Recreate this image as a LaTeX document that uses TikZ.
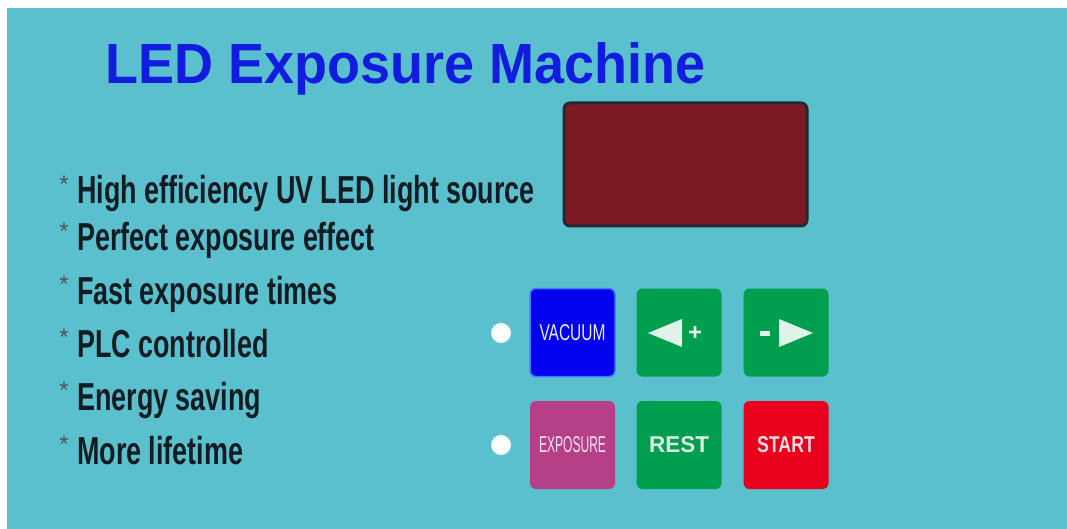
\documentclass[tikz,border=0pt]{standalone}
\usepackage{fontspec}
\setmainfont{Liberation Sans}
\usepackage{graphicx}
\definecolor{bgcyan}{RGB}{91,192,206}
\definecolor{titleblue}{RGB}{18,28,222}
\definecolor{txtdark}{RGB}{18,28,34}
\definecolor{disp}{RGB}{124,27,36}
\definecolor{dispedge}{RGB}{38,40,52}
\definecolor{vacblue}{RGB}{2,2,238}
\definecolor{vacedge}{RGB}{70,120,255}
\definecolor{btngreen}{RGB}{0,158,78}
\definecolor{btnmag}{RGB}{182,64,136}
\definecolor{btnred}{RGB}{232,0,28}
\definecolor{paletxt}{RGB}{235,240,250}
\begin{document}
\begin{tikzpicture}[x=1pt,y=-1pt,
  feat/.style={anchor=base west,inner sep=0pt,text=txtdark,font=\fontsize{39}{39}\selectfont\bfseries},
  star/.style={anchor=center,inner sep=0pt,text=txtdark!75,font=\fontsize{24}{24}\selectfont},
  btn/.style={rounded corners=6pt,minimum width=85pt,minimum height=88pt,inner sep=0pt,text=paletxt},
  led/.style={circle,fill=white,draw=white!85!bgcyan,line width=1pt,minimum size=19pt,inner sep=0pt},
  glyph/.style={fill=white!88!btngreen,draw=none}]
\useasboundingbox (0,0) rectangle (1067,529);
\fill[white] (0,0) rectangle (1067,529);
\fill[bgcyan] (7,8) rectangle (1067,529);
% title
\node[anchor=base west,inner sep=0pt,text=titleblue] (title) at (105,84)
  {\resizebox{600pt}{41pt}{\bfseries LED Exposure Machine}};
% features
\node[feat] (f1) at (77,204) {\scalebox{0.69}[1]{High efficiency UV LED light source}};
\node[feat] (f2) at (77,251) {\scalebox{0.69}[1]{Perfect exposure effect}};
\node[feat] (f3) at (77,304) {\scalebox{0.69}[1]{Fast exposure times}};
\node[feat] (f4) at (77,357) {\scalebox{0.69}[1]{PLC controlled}};
\node[feat] (f5) at (77,410) {\scalebox{0.69}[1]{Energy saving}};
\node[feat] (f6) at (77,464) {\scalebox{0.69}[1]{More lifetime}};
\foreach \y [count=\i] in {204,251,304,357,410,464}
  \node[star] (s\i) at (64,\y-20) {*};
% display
\draw[fill=disp,draw=dispedge,line width=3pt,rounded corners=6pt] (564,103) rectangle (807,226);
% leds
\node[led] (led1) at (501,333) {};
\node[led] (led2) at (501,445) {};
% buttons
\node[btn,fill=vacblue,draw=vacedge,line width=1.5pt] (vac) at (572.5,332.5)
  {\resizebox{66pt}{16pt}{VACUUM}};
\node[btn,fill=btngreen] (plus) at (679,332.5) {};
\node[btn,fill=btngreen] (minus) at (786,332.5) {};
\node[btn,fill=btnmag] (expo) at (572.5,445)
  {\color{white!85!btnmag}\resizebox{67pt}{16pt}{EXPOSURE}};
\node[btn,fill=btngreen] (rest) at (679,445)
  {\color{white!85!btngreen}\resizebox{60pt}{16pt}{\bfseries REST}};
\node[btn,fill=btnred] (start) at (786,445)
  {\color{white!85!btnred}\resizebox{58pt}{16pt}{\bfseries START}};
% arrow glyphs
\fill[glyph] (648,333) -- (682,319) -- (682,347) -- cycle;
\node[text=white!88!btngreen,font=\fontsize{24}{24}\selectfont\bfseries,inner sep=0pt] (plussign) at (695,333) {+};
\fill[glyph] (813,333) -- (779,319) -- (779,347) -- cycle;
\fill[glyph] (760,330.5) rectangle (770,335.5);
\end{tikzpicture}
\end{document}
